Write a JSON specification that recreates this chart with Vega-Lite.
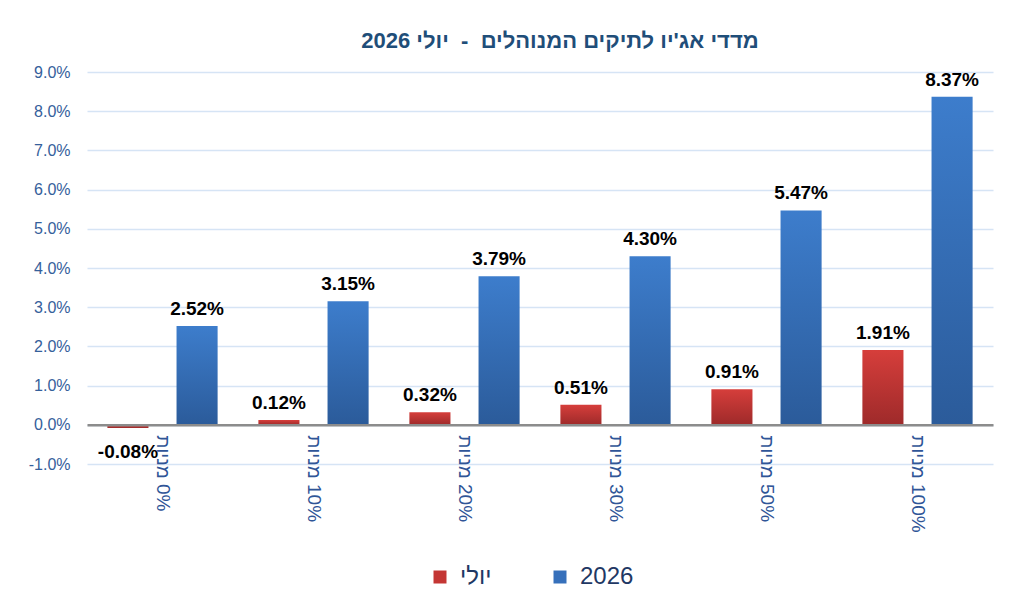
{
  "$schema": "https://vega.github.io/schema/vega-lite/v6.json",
  "width": 906,
  "height": 392,
  "autosize": {"type": "none"},
  "padding": {"left": 87, "top": 72, "right": 31, "bottom": 138},
  "background": "white",
  "title": {
    "text": "מדדי אג'יו לתיקים המנוהלים\u00a0 - \u00a0יולי 2026",
    "font": "Liberation Sans",
    "fontSize": 22,
    "fontWeight": "bold",
    "color": "#1f4e79",
    "anchor": "middle",
    "dx": 20,
    "offset": 11
  },
  "config": {"view": {"stroke": null}},
  "data": {
    "values": [
      {"category": "מניות 0%", "series": "יולי", "value": -0.0008},
      {"category": "מניות 0%", "series": "2026", "value": 0.0252},
      {"category": "מניות 10%", "series": "יולי", "value": 0.0012},
      {"category": "מניות 10%", "series": "2026", "value": 0.0315},
      {"category": "מניות 20%", "series": "יולי", "value": 0.0032},
      {"category": "מניות 20%", "series": "2026", "value": 0.0379},
      {"category": "מניות 30%", "series": "יולי", "value": 0.0051},
      {"category": "מניות 30%", "series": "2026", "value": 0.0430},
      {"category": "מניות 50%", "series": "יולי", "value": 0.0091},
      {"category": "מניות 50%", "series": "2026", "value": 0.0547},
      {"category": "מניות 100%", "series": "יולי", "value": 0.0191},
      {"category": "מניות 100%", "series": "2026", "value": 0.0837}
    ]
  },
  "transform": [
    {"calculate": "replace(format(datum.value, '.2%'), '−', '-')", "as": "label"}
  ],
  "encoding": {
    "x": {
      "field": "category",
      "type": "nominal",
      "sort": null,
      "scale": {"paddingInner": 0.27, "paddingOuter": 0.135},
      "axis": {
        "title": null,
        "offset": -39.2,
        "zindex": 1,
        "domainColor": "#8c8c8c",
        "domainWidth": 2.5,
        "ticks": false,
        "labelAngle": 90,
        "labelAlign": "left",
        "labelBaseline": "middle",
        "labelPadding": 10,
        "labelExpr": "replace(datum.label, ' ', ' \u200e')",
        "labelFont": "Liberation Sans",
        "labelFontSize": 19,
        "labelColor": "#2f5597"
      }
    },
    "xOffset": {
      "field": "series",
      "type": "nominal",
      "sort": ["יולי", "2026"],
      "scale": {"paddingInner": 0.406}
    },
    "y": {
      "field": "value",
      "type": "quantitative",
      "scale": {"domain": [-0.01, 0.09], "nice": false},
      "axis": {
        "title": null,
        "values": [-0.01, 0, 0.01, 0.02, 0.03, 0.04, 0.05, 0.06, 0.07, 0.08, 0.09],
        "labelExpr": "replace(format(datum.value, '.1%'), '−', '-')",
        "domain": false,
        "ticks": false,
        "labelPadding": 17,
        "labelFont": "Liberation Sans",
        "labelFontSize": 16,
        "labelColor": "#35609b",
        "gridColor": "#d6e4f5",
        "gridWidth": 1.5
      }
    }
  },
  "layer": [
    {
      "mark": {"type": "bar", "opacity": 0},
      "encoding": {
        "color": {
          "field": "series",
          "type": "nominal",
          "sort": ["יולי", "2026"],
          "scale": {"domain": ["יולי", "2026"], "range": ["#c43634", "#3670bb"]},
          "legend": {
            "title": null,
            "orient": "none",
            "direction": "horizontal",
            "legendX": 341,
            "legendY": 493,
            "symbolType": "square",
            "symbolSize": 169,
            "symbolOpacity": 1,
            "symbolStrokeWidth": 0,
            "labelFont": "Liberation Sans",
            "labelFontSize": 24,
            "labelColor": "#1f3864",
            "labelOffset": 8,
            "columnPadding": 56
          }
        }
      }
    },
    {
      "transform": [{"filter": "datum.series == 'יולי'"}],
      "mark": {
        "type": "bar",
        "fill": {"gradient": "linear", "x1": 0, "y1": 0, "x2": 0, "y2": 1, "stops": [{"offset": 0, "color": "#d63e3b"}, {"offset": 1, "color": "#9e2a2a"}]}
      },
      "encoding": {}
    },
    {
      "transform": [{"filter": "datum.series == '2026'"}],
      "mark": {
        "type": "bar",
        "fill": {"gradient": "linear", "x1": 0, "y1": 0, "x2": 0, "y2": 1, "stops": [{"offset": 0, "color": "#3d7dcc"}, {"offset": 1, "color": "#2b5b9a"}]}
      },
      "encoding": {}
    },
    {
      "transform": [{"filter": "datum.value >= 0"}],
      "mark": {"type": "text", "baseline": "bottom", "dy": -7, "font": "Liberation Sans", "fontSize": 19, "fontWeight": "bold", "color": "#000000"},
      "encoding": {"text": {"field": "label", "type": "nominal"}}
    },
    {
      "transform": [{"filter": "datum.value < 0"}],
      "mark": {"type": "text", "baseline": "top", "dy": 15, "font": "Liberation Sans", "fontSize": 19, "fontWeight": "bold", "color": "#000000"},
      "encoding": {"text": {"field": "label", "type": "nominal"}}
    }
  ]
}
